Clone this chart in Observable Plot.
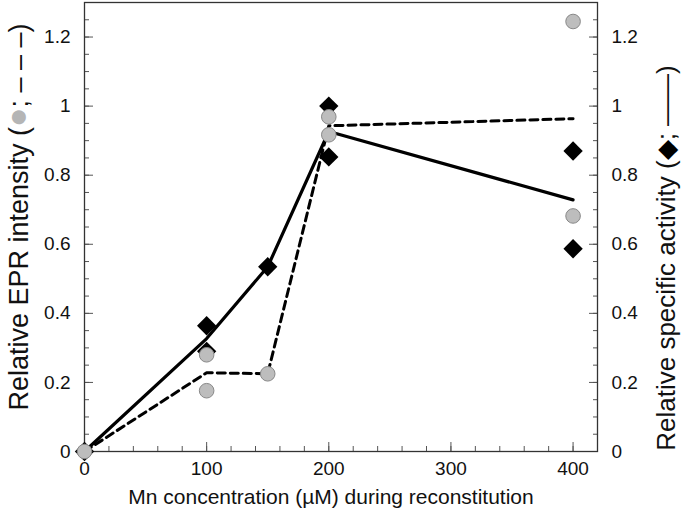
<!DOCTYPE html>
<html>
<head>
<meta charset="utf-8">
<script src="https://cdn.jsdelivr.net/npm/d3@7"></script>
<script src="https://cdn.jsdelivr.net/npm/@observablehq/plot@0.6"></script>
<style>
  html, body { margin: 0; padding: 0; background: #fff; }
  #chart { width: 685px; height: 511px; }
</style>
</head>
<body>
<div id="chart"></div>
<script>
// EPR intensity (grey circles, dashed mean line)
const eprConc = [0, 100, 100, 150, 200, 200, 400, 400];
const eprIntensity = [0, 0.28, 0.176, 0.225, 0.969, 0.917, 1.245, 0.682];
// Specific activity (black diamonds, solid mean line)
const actConc = [0, 100, 100, 150, 200, 200, 400, 400];
const specificActivity = [0, 0.364, 0.29, 0.535, 1.0, 0.853, 0.87, 0.587];

const xMajorTicks = [0, 100, 200, 300, 400];
const yMajorTicks = [0, 0.2, 0.4, 0.6, 0.8, 1, 1.2];
const xMinorTicks = d3.range(0, 421, 20);
const yMinorTicks = d3.range(0, 1.3001, 0.05);

const xTitle = "Mn concentration (µM) during reconstitution";
const yLeftTitle = "Relative EPR intensity (●; – – –)";
const yRightTitle = "Relative specific activity (◆; ——)";

const epr = eprConc.map((x, i) => ({x, y: eprIntensity[i]}));
const act = actConc.map((x, i) => ({x, y: specificActivity[i]}));

const font = 19;
const tickCol = "#555";

const plot = Plot.plot({
  width: 685,
  height: 511,
  marginLeft: 84,
  marginRight: 88,
  marginTop: 2,
  marginBottom: 60,
  style: {fontFamily: "'Liberation Sans', Arial, sans-serif", fontSize: font + "px", color: "#111", background: "#fff"},
  x: {domain: [0, 420]},
  y: {domain: [0, 1.3]},
  marks: [
    // ticks (inward)
    Plot.axisX(xMinorTicks, {anchor: "bottom", tickSize: -5, tickFormat: () => "", stroke: tickCol, label: null}),
    Plot.axisX(xMajorTicks, {anchor: "bottom", tickSize: -9, tickFormat: () => "", stroke: tickCol, label: null}),
    Plot.axisY(yMinorTicks, {anchor: "left", tickSize: -5, tickFormat: () => "", stroke: tickCol, label: null}),
    Plot.axisY(yMajorTicks, {anchor: "left", tickSize: -9, tickFormat: () => "", stroke: tickCol, label: null}),
    Plot.axisY(yMinorTicks, {anchor: "right", tickSize: -5, tickFormat: () => "", stroke: tickCol, label: null}),
    Plot.axisY(yMajorTicks, {anchor: "right", tickSize: -9, tickFormat: () => "", stroke: tickCol, label: null}),
    // tick labels
    Plot.axisX(xMajorTicks, {anchor: "bottom", tickSize: 0, tickPadding: 10, tickFormat: d => String(d), fontSize: font, label: null}),
    Plot.axisY(yMajorTicks, {anchor: "left", tickSize: 0, tickPadding: 14, tickFormat: d => String(d), fontSize: font, label: null}),
    Plot.axisY(yMajorTicks, {anchor: "right", tickSize: 0, tickPadding: 14, tickFormat: d => String(d), fontSize: font, label: null}),
    Plot.frame({stroke: "#333", strokeWidth: 1.3}),
    // mean lines
    Plot.lineY(act, Plot.groupX({y: "mean"}, {x: "x", y: "y", stroke: "#000", strokeWidth: 3.2})),
    Plot.lineY(epr, Plot.groupX({y: "mean"}, {x: "x", y: "y", stroke: "#000", strokeWidth: 3, strokeDasharray: "8,5"})),
    // points
    Plot.dot(act, {x: "x", y: "y", symbol: "diamond2", r: 8.7, fill: "#000", stroke: "none"}),
    Plot.dot(epr, {x: "x", y: "y", r: 7.3, fill: "#bdbdbd", stroke: "#888", strokeWidth: 1}),
    // titles
    Plot.text([xTitle], {text: d => d, frameAnchor: "bottom", textAnchor: "middle", dx: -10, dy: 46, fontSize: 21, lineAnchor: "middle", fill: "#111"}),
    Plot.text([yLeftTitle], {text: d => d, frameAnchor: "left", textAnchor: "middle", rotate: -90, dx: -65, dy: -10, fontSize: 27, lineAnchor: "middle", fill: "#111"}),
    Plot.text([yRightTitle], {text: d => d, frameAnchor: "right", textAnchor: "middle", rotate: -90, dx: 69, dy: 31, fontSize: 26, lineAnchor: "middle", fill: "#111"})
  ]
});

// enlarge / colour the legend symbols inside the axis titles
d3.select(plot).selectAll("text").each(function() {
  const t = this.textContent;
  let sym = null, color = null, size = null;
  if (t === yLeftTitle) { sym = "●"; color = "#b5b5b5"; size = "1.2em"; }
  if (t === yRightTitle) { sym = "◆"; color = "#000"; size = "1.0em"; }
  if (sym) {
    const parts = t.split(sym);
    const sel = d3.select(this);
    sel.text(null);
    sel.append("tspan").text(parts[0]);
    sel.append("tspan").attr("fill", color).attr("font-size", size).text(sym);
    sel.append("tspan").text(parts[1]);
  }
});

document.getElementById("chart").appendChild(plot);
</script>
</body>
</html>
